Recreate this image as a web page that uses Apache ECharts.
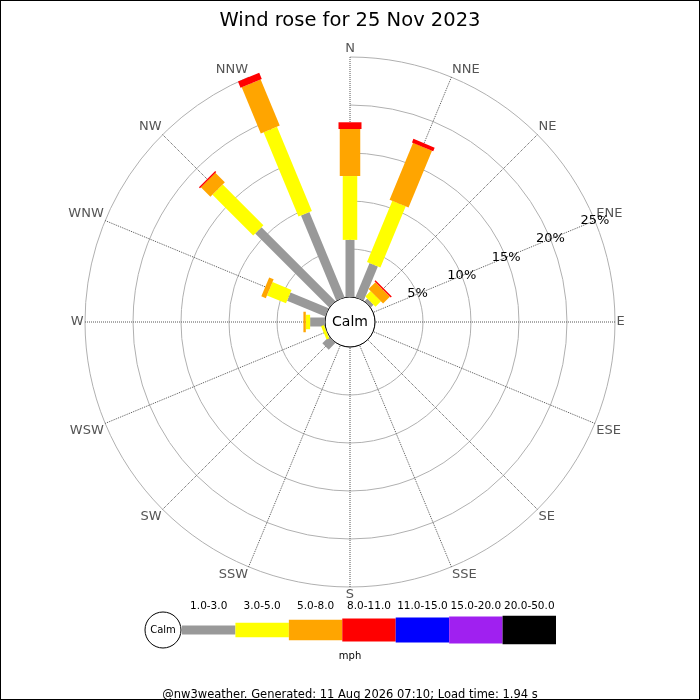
<!DOCTYPE html>
<html>
<head>
<meta charset="utf-8">
<script src="https://cdn.jsdelivr.net/npm/echarts@6/dist/echarts.min.js"></script>
<style>
html, body { margin: 0; padding: 0; background: #fff; }
#rose { width: 698px; height: 698px; border: 1px solid #000; }
</style>
</head>
<body>
<div id="rose"></div>
<script>
// compass points, clockwise from north
var directions = ['N', 'NNE', 'NE', 'ENE', 'E', 'ESE', 'SE', 'SSE',
                  'S', 'SSW', 'SW', 'WSW', 'W', 'WNW', 'NW', 'NNW'];
var binLabels = ['1.0-3.0', '3.0-5.0', '5.0-8.0', '8.0-11.0', '11.0-15.0', '15.0-20.0', '20.0-50.0'];

// % of the day per direction, one array per speed bin (mph)
var bin1to3   = [5.95, 3.85, 0.4, 0, 0, 0, 0, 0, 0, 0, 1.0, 0.05, 1.55, 4.3, 10.9, 9.6];
var bin3to5   = [6.65, 6.9, 0.8, 0, 0, 0, 0, 0, 0, 0, 0, 0.3, 0.45, 2.15, 6.0, 9.5];
var bin5to8   = [4.9, 6.4, 1.0, 0, 0, 0, 0, 0, 0, 0, 0, 0, 0.25, 0.5, 1.4, 5.2];
var bin8to11  = [0.7, 0.4, 0.15, 0, 0, 0, 0, 0, 0, 0, 0, 0, 0, 0, 0.15, 0.7];
var bin11to15 = [0, 0, 0, 0, 0, 0, 0, 0, 0, 0, 0, 0, 0, 0, 0, 0];
var bin15to20 = [0, 0, 0, 0, 0, 0, 0, 0, 0, 0, 0, 0, 0, 0, 0, 0];
var bin20to50 = [0, 0, 0, 0, 0, 0, 0, 0, 0, 0, 0, 0, 0, 0, 0, 0];

var pctTicks = [5, 10, 15, 20, 25];

var bins = [bin1to3, bin3to5, bin5to8, bin8to11, bin11to15, bin15to20, bin20to50];
var binColors = ['#999999', '#ffff00', '#ffa500', '#ff0000', '#0000ff', '#a020f0', '#000000'];
var binWidths = [9, 14.5, 20.5, 23, 25, 27, 28.5];   // px thickness of each bin

var cx = 349, cy = 321;

var myChart = echarts.init(document.getElementById('rose'));

function roseBar(k) {
    return function (params, api) {
        var dir = api.value(0), r0 = api.value(1), r1 = api.value(2);
        if (!(r1 > r0)) return null;
        var o = api.coord([0, dir]);
        var q = api.coord([25, dir]);
        var ux = q[0] - o[0], uy = q[1] - o[1];
        var len = Math.sqrt(ux * ux + uy * uy) || 1;
        var hw = binWidths[k] / 2;
        var nx = -uy / len * hw, ny = ux / len * hw;
        var a = api.coord([r0, dir]);
        var b = api.coord([r1, dir]);
        return {
            type: 'polygon',
            shape: { points: [[a[0] + nx, a[1] + ny], [b[0] + nx, b[1] + ny],
                              [b[0] - nx, b[1] - ny], [a[0] - nx, a[1] - ny]] },
            style: { fill: binColors[k] }
        };
    };
}

function legendBox(params, api) {
    var i = api.value(0);
    var c = api.coord([i, 0]);
    var w = api.size([1, 0])[0];
    var h = binWidths[i];
    return {
        type: 'rect',
        shape: { x: c[0] - w / 2, y: c[1] - h / 2, width: w, height: h },
        style: { fill: binColors[i] }
    };
}

// stack bins outwards
var series = [];
var base = directions.map(function () { return 0; });
bins.forEach(function (vals, k) {
    var rows = [];
    for (var d = 0; d < directions.length; d++) {
        rows.push([d, base[d], base[d] + vals[d]]);
        base[d] += vals[d];
    }
    series.push({
        name: binLabels[k],
        type: 'custom',
        coordinateSystem: 'polar',
        polarIndex: 0,
        encode: { angle: 0, radius: 2 },
        renderItem: roseBar(k),
        data: rows,
        silent: true
    });
});

series.push({
    type: 'custom',
    xAxisIndex: 0,
    yAxisIndex: 0,
    encode: { x: 0 },
    renderItem: legendBox,
    data: binLabels.map(function (b, i) { return [i]; }),
    silent: true
});

var option = {
    animation: false,
    textStyle: { fontFamily: 'DejaVu Sans' },
    title: [
        { text: 'Wind rose for 25 Nov 2023', left: 'center', top: 5,
          textStyle: { fontSize: 19.5, fontWeight: 'normal', color: '#000', fontFamily: 'DejaVu Sans' } },
        { text: 'mph', left: 'center', top: 645,
          textStyle: { fontSize: 10, fontWeight: 'normal', color: '#000', fontFamily: 'DejaVu Sans' } },
        { text: '@nw3weather. Generated: 11 Aug 2026 07:10; Load time: 1.94 s', left: 'center', top: 683,
          textStyle: { fontSize: 11.5, fontWeight: 'normal', color: '#000', fontFamily: 'DejaVu Sans' } }
    ],
    polar: [
        { center: [cx, cy], radius: [25, 265] },
        { center: [cx, cy], radius: [25, 265] },
        { center: [cx, cy], radius: 25 }
    ],
    angleAxis: [
        {
            polarIndex: 0, type: 'category', data: directions,
            startAngle: 90, clockwise: true, boundaryGap: false,
            axisLine: { show: false },
            axisTick: { show: false },
            axisLabel: { color: '#555', fontSize: 13, margin: 1.5 },
            splitLine: { show: true, lineStyle: { color: '#555', type: [1, 1], width: 1 } }
        },
        { polarIndex: 1, type: 'value', min: 0, max: 360, startAngle: 22.5, show: false },
        {
            polarIndex: 2, type: 'value', min: 0, max: 360,
            axisLine: { show: true, lineStyle: { color: '#000', width: 1 } },
            axisTick: { show: false }, axisLabel: { show: false }, splitLine: { show: false }
        }
    ],
    radiusAxis: [
        {
            polarIndex: 0, type: 'value', min: 0, max: 25, interval: 5,
            axisLine: { show: false }, axisTick: { show: false }, axisLabel: { show: false },
            splitLine: { show: true, lineStyle: { color: '#b0b0b0', width: 1 } }
        },
        {
            polarIndex: 1, type: 'value', min: 0, max: 25, interval: 5,
            axisLine: { show: false }, axisTick: { show: false }, splitLine: { show: false },
            axisLabel: {
                color: '#000', fontSize: 13, margin: 0, align: 'center', verticalAlign: 'middle',
                formatter: function (v) { return pctTicks.indexOf(v) >= 0 ? v + '%' : ''; }
            },
            z: 5
        },
        { polarIndex: 2, type: 'value', min: 0, max: 1, show: false }
    ],
    grid: { left: 181, width: 374, top: 614, height: 30 },
    xAxis: {
        type: 'category', data: binLabels, position: 'top',
        axisLine: { show: false }, axisTick: { show: false }, splitLine: { show: false },
        axisLabel: { color: '#000', fontSize: 10.5, margin: 3, interval: 0 }
    },
    yAxis: { type: 'value', min: -1, max: 1, show: false },
    graphic: [
        { type: 'text', z: 10, style: { text: 'Calm', x: cx, y: cy, align: 'center', verticalAlign: 'middle',
          font: '14px "DejaVu Sans"', fill: '#000' } },
        { type: 'circle', shape: { cx: 162, cy: 629, r: 18 }, style: { fill: '#fff', stroke: '#000', lineWidth: 1 } },
        { type: 'text', z: 10, style: { text: 'Calm', x: 162, y: 629, align: 'center', verticalAlign: 'middle',
          font: '10px "DejaVu Sans"', fill: '#000' } }
    ],
    series: series
};

option && myChart.setOption(option);
</script>
</body>
</html>
